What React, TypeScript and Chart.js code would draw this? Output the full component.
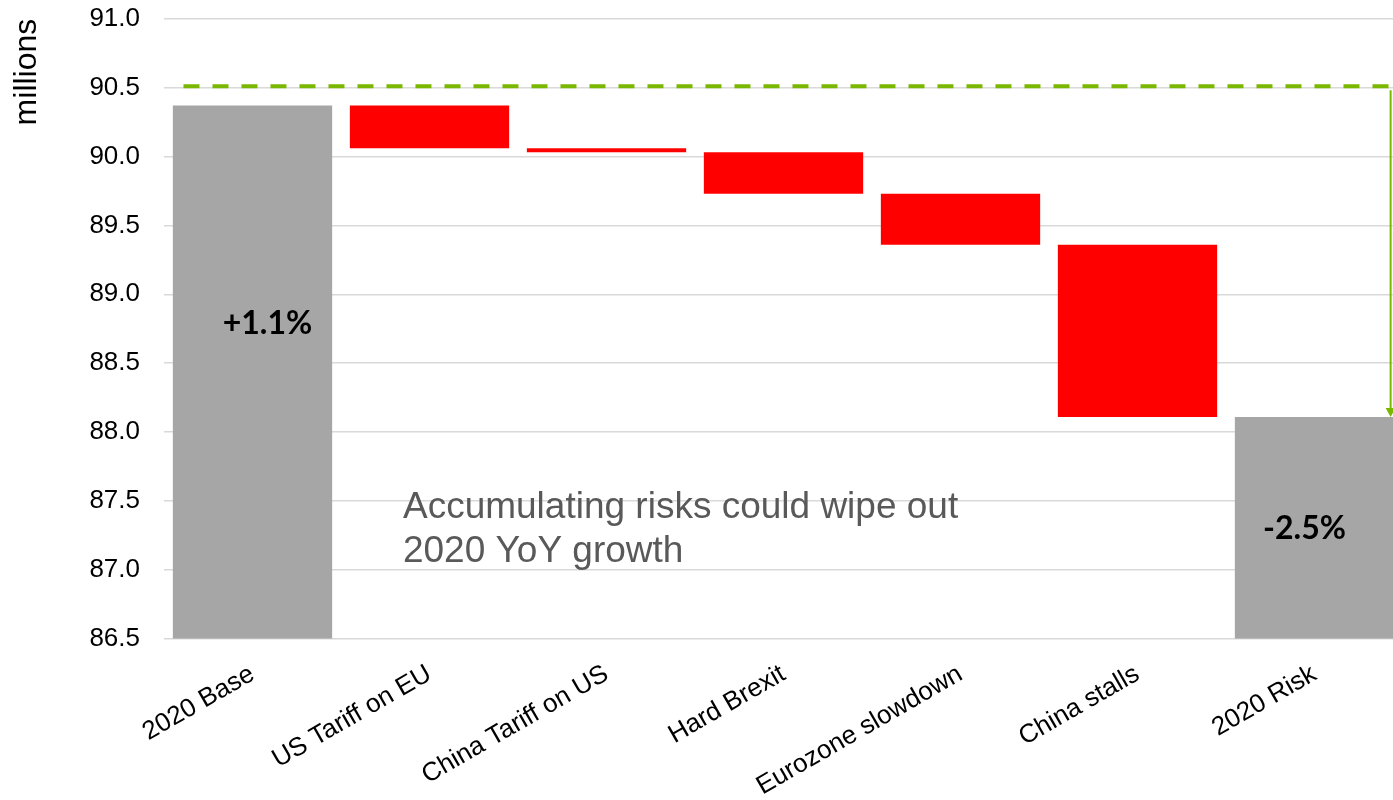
import React, { useEffect, useRef } from 'react';
import { Chart, registerables } from 'chart.js';

Chart.register(...registerables);

// ---- data ----
const categories = [
  '2020 Base',
  'US Tariff on EU',
  'China Tariff on US',
  'Hard Brexit',
  'Eurozone slowdown',
  'China stalls',
  '2020 Risk',
];
const barLow = [86.5, 90.06, 90.03, 89.73, 89.36, 88.11, 86.5];
const barHigh = [90.37, 90.37, 90.06, 90.03, 89.73, 89.36, 88.11];
const barKind = ['total', 'decrease', 'decrease', 'decrease', 'decrease', 'decrease', 'total'];
const targetLevel = 90.51;
const changeLabels = ['+1.1%', '-2.5%'];
const noteLines = ['Accumulating risks could wipe out', '2020 YoY growth'];
const yAxisTitle = 'millions';

// ---- layout / style (not data) ----
const changeAnchors = [
  { index: 0, value: 88.79, dx: 15 },
  { index: 6, value: 87.3, dx: -10 },
];
const noteAnchor = { index: 1, dxFrac: -0.15, values: [87.45, 87.13] };

const GRAY = '#a6a6a6';
const RED = '#ff0000';
const GREEN = '#7ab800';
const W = 1410;
const H = 800;

const overlayPlugin = {
  id: 'overlay',
  afterDatasetsDraw(chart: any) {
    const { ctx, scales } = chart;
    const x = scales.x;
    const y = scales.y;
    const cw = x.getPixelForValue(1) - x.getPixelForValue(0);
    const ty = y.getPixelForValue(targetLevel);
    const x0 = x.getPixelForValue(0) - cw * 0.39;
    const x1 = x.getPixelForValue(categories.length - 1) + cw * 0.43;
    const riskTop = y.getPixelForValue(barHigh[barHigh.length - 1]);
    ctx.save();
    // dashed target line
    ctx.strokeStyle = GREEN;
    ctx.lineWidth = 4;
    ctx.setLineDash([16, 13]);
    ctx.beginPath();
    ctx.moveTo(x0, ty);
    ctx.lineTo(x1 - 2, ty);
    ctx.stroke();
    // vertical arrow
    ctx.setLineDash([]);
    ctx.lineWidth = 2;
    ctx.beginPath();
    ctx.moveTo(x1, ty + 4);
    ctx.lineTo(x1, riskTop - 8);
    ctx.stroke();
    ctx.fillStyle = GREEN;
    ctx.beginPath();
    ctx.moveTo(x1 - 5, riskTop - 9);
    ctx.lineTo(x1 + 5, riskTop - 9);
    ctx.lineTo(x1, riskTop);
    ctx.closePath();
    ctx.fill();

    // change labels
    ctx.fillStyle = '#000000';
    ctx.font = 'bold 32px Lato, "Liberation Sans", sans-serif';
    ctx.textAlign = 'center';
    ctx.textBaseline = 'middle';
    changeAnchors.forEach((a, i) => {
      ctx.fillText(changeLabels[i], x.getPixelForValue(a.index) + a.dx, y.getPixelForValue(a.value));
    });

    // note text
    ctx.fillStyle = '#595959';
    ctx.font = '37px "Liberation Sans", Arial, sans-serif';
    ctx.textAlign = 'left';
    const nx = x.getPixelForValue(noteAnchor.index) + cw * noteAnchor.dxFrac;
    noteLines.forEach((line, i) => {
      ctx.fillText(line, nx, y.getPixelForValue(noteAnchor.values[i]));
    });
    ctx.restore();
  },
};

export default function App() {
  const ref = useRef<HTMLCanvasElement | null>(null);

  useEffect(() => {
    document.documentElement.style.overflow = 'hidden';
    const canvas = ref.current;
    if (!canvas) return;
    const chart = new Chart(canvas, {
      type: 'bar',
      data: {
        labels: categories,
        datasets: [
          {
            data: barLow.map((lo, i) => [lo, barHigh[i]]) as any,
            backgroundColor: barKind.map((k) => (k === 'total' ? GRAY : RED)),
            borderWidth: 0,
            barPercentage: 0.9,
            categoryPercentage: 1.0,
          },
        ],
      },
      options: {
        responsive: false,
        animation: false,
        devicePixelRatio: 1,
        layout: { padding: { top: 18.7, right: 7, left: 0, bottom: 0 } },
        plugins: {
          legend: { display: false },
          tooltip: { enabled: false },
        },
        scales: {
          x: {
            grid: { display: false },
            border: { display: false },
            ticks: {
              color: '#000000',
              font: { family: '"Liberation Sans", Arial, sans-serif', size: 26 },
              minRotation: 30,
              maxRotation: 30,
              autoSkip: false,
              padding: 12,
            },
            afterFit(scale: any) {
              scale.height = 161.3;
              scale.paddingLeft = 0;
              scale.paddingRight = 0;
            },
          },
          y: {
            min: 86.5,
            max: 91,
            grid: { color: '#d9d9d9', lineWidth: 1.5, drawTicks: false },
            border: { display: false },
            ticks: {
              stepSize: 0.5,
              color: '#000000',
              padding: 24,
              font: { family: '"Liberation Sans", Arial, sans-serif', size: 26, lineHeight: 0.8 },
              callback: (v: any) => Number(v).toFixed(1),
            },
            title: {
              display: true,
              text: yAxisTitle,
              align: 'end',
              color: '#000000',
              padding: { top: 8, bottom: 0 },
              font: { family: '"Liberation Sans", Arial, sans-serif', size: 32 },
            },
            afterFit(scale: any) {
              scale.width = 164;
              scale.paddingTop = 0;
              scale.paddingBottom = 0;
            },
          },
        },
      },
      plugins: [overlayPlugin],
    });
    return () => chart.destroy();
  }, []);

  return (
    <div style={{ position: 'fixed', left: 0, top: 0, width: W, height: H, background: '#ffffff' }}>
      <canvas ref={ref} width={W} height={H} style={{ display: 'block', width: W, height: H }} />
    </div>
  );
}
